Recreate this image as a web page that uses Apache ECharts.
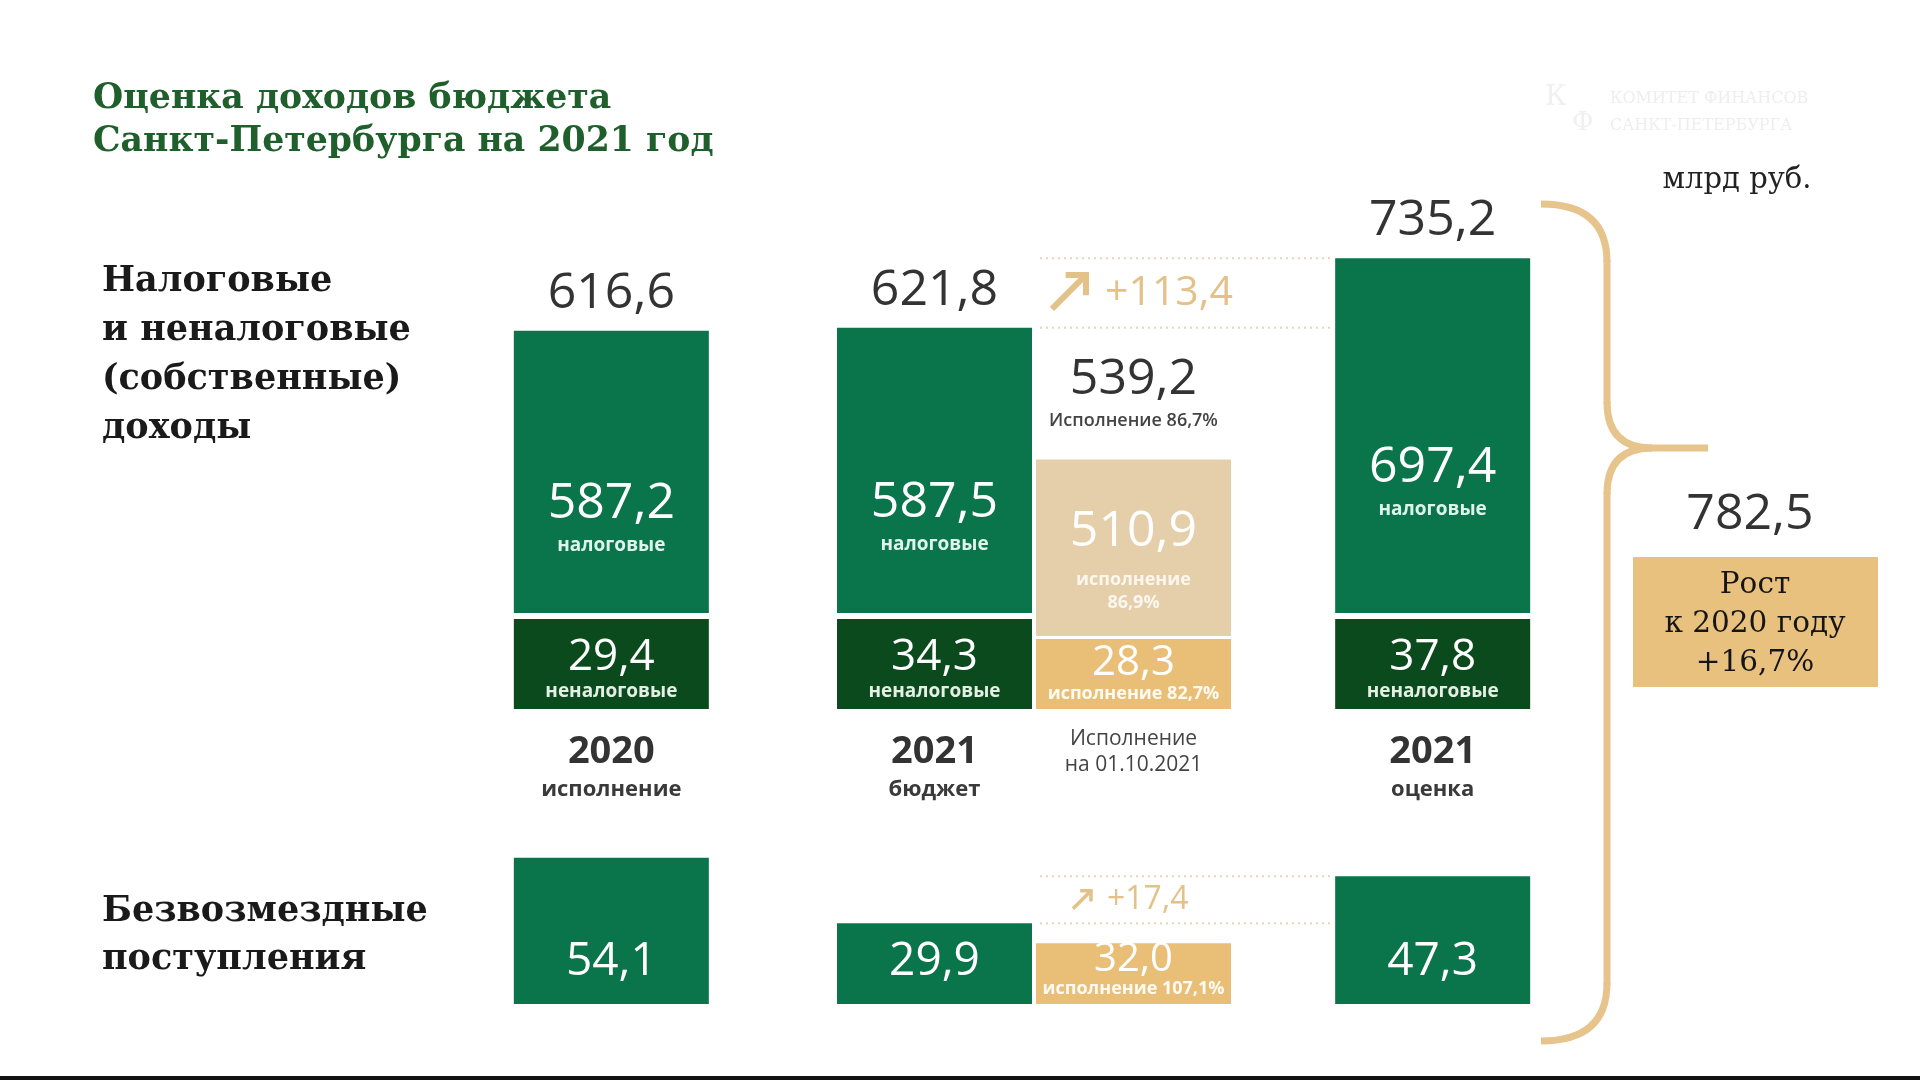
<!DOCTYPE html>
<html lang="ru">
<head>
<meta charset="utf-8">
<title>Оценка доходов бюджета Санкт-Петербурга на 2021 год</title>
<script src="https://cdn.jsdelivr.net/npm/echarts@6.0.0/dist/echarts.min.js"></script>
<style>
  html, body { margin: 0; padding: 0; background: #fff; }
  #chart { width: 1920px; height: 1080px; }
</style>
</head>
<body>
<div id="chart"></div>
<script>
// млрд руб.
const columns = ['2020 исполнение', '2021 бюджет', '2021 оценка'];
const taxRevenue = [587.2, 587.5, 697.4];
const nonTaxRevenue = [29.4, 34.3, 37.8];
const grants = [54.1, 29.9, 47.3];

// исполнение на 01.10.2021 стоит рядом с бюджетом 2021
const execColumn = 1;
const execCaption = ['Исполнение', 'на 01.10.2021'];
const execTax = [510.9];
const execNonTax = [28.3];
const execGrants = [32.0];
// всего, налоговые, неналоговые, безвозмездные (%)
const execPercent = [86.7, 86.9, 82.7, 107.1];

const SANS = '"Open Sans", "Noto Sans", sans-serif';
const SERIF = '"DejaVu Serif", serif';
const GREEN = '#0a744b';
const DARK_GREEN = '#0b4a1c';
const TAN_LIGHT = '#e5cfaa';
const TAN = '#e9bf78';
const GOLD = '#e4c189';
const BRACE = '#e7c48b';

const BAR_W = 195;
const PAIR_CENTER = 12;
const PAIR_SHIFT = 99.5;
const NT_MIN = 90;
const TAN_NT_MIN = 70;

const fmt = (v) => v.toFixed(1).replace('.', ',');

function txt(text, x, y, size, extra) {
  return {
    type: 'text',
    style: Object.assign({
      text: text, x: x, y: y, fontSize: size, fontFamily: SANS,
      fill: '#333', align: 'center', verticalAlign: 'middle'
    }, extra || {})
  };
}

function columnX(api, cat, isExec) {
  const cx = api.coord([cat, 0])[0];
  if (cat !== execColumn) return cx;
  return cx + PAIR_CENTER + (isExec ? PAIR_SHIFT : -PAIR_SHIFT);
}

function renderOwn(params, api) {
  const cat = api.value(0);
  const tax = api.value(1);
  const nonTax = api.value(2);
  const cx = columnX(api, cat, false);
  const baseY = api.coord([cat, 0])[1];
  const topY = api.coord([cat, tax + nonTax])[1];
  const ntH = Math.max(baseY - api.coord([cat, nonTax])[1], NT_MIN);
  const taxBottom = baseY - ntH - 6;
  const mid = (topY + taxBottom) / 2 + 32;
  const parts = columns[cat].split(' ');
  return {
    type: 'group',
    children: [
      { type: 'rect', shape: { x: cx - BAR_W / 2, y: topY, width: BAR_W, height: taxBottom - topY }, style: { fill: GREEN } },
      { type: 'rect', shape: { x: cx - BAR_W / 2, y: baseY - ntH, width: BAR_W, height: ntH }, style: { fill: DARK_GREEN } },
      txt(fmt(tax + nonTax), cx, topY - 37, 50),
      txt(fmt(tax), cx, mid, 50, { fill: '#fff' }),
      txt('налоговые', cx, mid + 42, 19, { fill: '#dff4ec', fontWeight: 'bold' }),
      txt(fmt(nonTax), cx, baseY - 52, 44, { fill: '#fff' }),
      txt('неналоговые', cx, baseY - 17, 19, { fill: '#e6efe6', fontWeight: 'bold' }),
      txt(parts[0], cx, baseY + 43, 38, { fontWeight: 'bold' }),
      txt(parts[1], cx, baseY + 81, 22, { fontWeight: 'bold', fill: '#3a3a3a' })
    ]
  };
}

function renderExec(params, api) {
  const cat = api.value(0);
  const tax = api.value(1);
  const nonTax = api.value(2);
  const cx = columnX(api, cat, true);
  const baseY = api.coord([cat, 0])[1];
  const topY = api.coord([cat, tax + nonTax])[1];
  const ntH = Math.max(baseY - api.coord([cat, nonTax])[1], TAN_NT_MIN);
  const taxBottom = baseY - ntH - 3;
  const mid = (topY + taxBottom) / 2;
  return {
    type: 'group',
    children: [
      { type: 'rect', shape: { x: cx - BAR_W / 2, y: topY, width: BAR_W, height: taxBottom - topY }, style: { fill: TAN_LIGHT } },
      { type: 'rect', shape: { x: cx - BAR_W / 2, y: baseY - ntH, width: BAR_W, height: ntH }, style: { fill: TAN } },
      txt(fmt(tax + nonTax), cx, topY - 80, 50),
      txt('Исполнение ' + fmt(execPercent[0]) + '%', cx, topY - 39, 18, { fontWeight: 600, fill: '#444' }),
      txt(fmt(tax), cx, mid - 16, 50, { fill: '#fff' }),
      txt('исполнение', cx, mid + 32, 18, { fill: '#fbf6ee', fontWeight: 'bold' }),
      txt(fmt(execPercent[1]) + '%', cx, mid + 55, 18, { fill: '#fbf6ee', fontWeight: 'bold' }),
      txt(fmt(nonTax), cx, baseY - 46, 42, { fill: '#fff' }),
      txt('исполнение ' + fmt(execPercent[2]) + '%', cx, baseY - 15, 18, { fill: '#fffaf2', fontWeight: 'bold' }),
      txt(execCaption[0], cx, baseY + 30, 21, { fill: '#444', fontWeight: 500 }),
      txt(execCaption[1], cx, baseY + 56, 21, { fill: '#444', fontWeight: 500 })
    ]
  };
}

function renderGrant(params, api) {
  const cat = api.value(0);
  const v = api.value(1);
  const cx = columnX(api, cat, false);
  const baseY = api.coord([cat, 0])[1];
  const topY = api.coord([cat, v])[1];
  return {
    type: 'group',
    children: [
      { type: 'rect', shape: { x: cx - BAR_W / 2, y: topY, width: BAR_W, height: baseY - topY }, style: { fill: GREEN } },
      txt(fmt(v), cx, baseY - 42, 46, { fill: '#fff' })
    ]
  };
}

function renderExecGrant(params, api) {
  const cat = api.value(0);
  const v = api.value(1);
  const cx = columnX(api, cat, true);
  const baseY = api.coord([cat, 0])[1];
  const topY = api.coord([cat, v])[1];
  return {
    type: 'group',
    children: [
      { type: 'rect', shape: { x: cx - BAR_W / 2, y: topY, width: BAR_W, height: baseY - topY }, style: { fill: TAN } },
      txt(fmt(v), cx, baseY - 44, 40, { fill: '#fff' }),
      txt('исполнение ' + fmt(execPercent[3]) + '%', cx, baseY - 15, 18, { fill: '#fffaf2', fontWeight: 'bold' })
    ]
  };
}

// пунктир между бюджетом и оценкой и прирост со стрелкой
function makeDeltaRenderer(cfg) {
  return function (params, api) {
    const fromCat = api.value(0);
    const fromV = api.value(1);
    const toCat = api.value(2);
    const toV = api.value(3);
    const x1 = columnX(api, fromCat, true) - BAR_W / 2 + 4;
    const x2 = columnX(api, toCat, false) - BAR_W / 2 - 3;
    const y1 = api.coord([fromCat, fromV])[1];
    const y2 = api.coord([toCat, toV])[1];
    const midY = (y1 + y2) / 2;
    const dotted = { stroke: '#e8d5b3', lineWidth: 2, lineDash: [2, 4] };
    const tx = x1 + cfg.arrowX;
    const ty = midY + cfg.arrowY;
    const s = cfg.size;
    const h = s * 0.6;
    const arrowStyle = { stroke: GOLD, lineWidth: cfg.width, fill: null };
    return {
      type: 'group',
      children: [
        { type: 'line', shape: { x1: x1, y1: y1, x2: x2, y2: y1 }, style: dotted },
        { type: 'line', shape: { x1: x1, y1: y2, x2: x2, y2: y2 }, style: dotted },
        { type: 'line', shape: { x1: tx, y1: ty, x2: tx + s, y2: ty - s }, style: arrowStyle },
        { type: 'polyline', shape: { points: [[tx + s - h, ty - s], [tx + s, ty - s], [tx + s, ty - s + h]] }, style: arrowStyle },
        txt('+' + fmt(toV - fromV), x1 + cfg.textX, midY, cfg.font, { fill: GOLD, align: 'left' })
      ]
    };
  };
}

function curve(x1, y1, cx, cy, x2, y2) {
  return { type: 'bezierCurve', shape: { x1: x1, y1: y1, cpx1: cx, cpy1: cy, x2: x2, y2: y2 },
    style: { stroke: BRACE, lineWidth: 7, fill: null } };
}
function straight(x1, y1, x2, y2) {
  return { type: 'line', shape: { x1: x1, y1: y1, x2: x2, y2: y2 }, style: { stroke: BRACE, lineWidth: 7 } };
}

const ownData = taxRevenue.map((t, i) => [i, t, nonTaxRevenue[i]]);
const execData = [[execColumn, execTax[0], execNonTax[0]]];
const grantData = grants.map((g, i) => [i, g]);
const execGrantData = [[execColumn, execGrants[0]]];
const ownDelta = [[1, taxRevenue[1] + nonTaxRevenue[1], 2, taxRevenue[2] + nonTaxRevenue[2]]];
const grantDelta = [[1, grants[1], 2, grants[2]]];

const total2020 = taxRevenue[0] + nonTaxRevenue[0] + grants[0];
const totalEstimate = taxRevenue[2] + nonTaxRevenue[2] + grants[2];
const growth = (totalEstimate / total2020 - 1) * 100;

const chart = echarts.init(document.getElementById('chart'));

const option = {
  backgroundColor: '#fff',
  animation: false,
  grid: [
    { left: 406, right: 282, top: 200, bottom: 371 },
    { left: 406, right: 282, top: 850, bottom: 76 }
  ],
  xAxis: [
    { type: 'category', gridIndex: 0, data: columns, show: false },
    { type: 'category', gridIndex: 1, data: columns, show: false }
  ],
  yAxis: [
    { type: 'value', gridIndex: 0, min: 0, max: 830, show: false },
    { type: 'value', gridIndex: 0, min: 0, max: 1100, show: false },
    { type: 'value', gridIndex: 1, min: 0, max: 57, show: false },
    { type: 'value', gridIndex: 1, min: 0, max: 81, show: false }
  ],
  series: [
    { type: 'custom', name: 'Собственные доходы', xAxisIndex: 0, yAxisIndex: 0, clip: false, silent: true,
      encode: { x: 0, y: [1, 2] }, data: ownData, renderItem: renderOwn },
    { type: 'custom', name: 'Исполнение', xAxisIndex: 0, yAxisIndex: 1, clip: false, silent: true,
      encode: { x: 0, y: [1, 2] }, data: execData, renderItem: renderExec },
    { type: 'custom', name: 'Прирост', xAxisIndex: 0, yAxisIndex: 0, clip: false, silent: true,
      encode: { x: [0, 2], y: [1, 3] }, data: ownDelta,
      renderItem: makeDeltaRenderer({ arrowX: 12, arrowY: 16, size: 34, width: 6, textX: 65, font: 41 }) },
    { type: 'custom', name: 'Безвозмездные', xAxisIndex: 1, yAxisIndex: 2, clip: false, silent: true,
      encode: { x: 0, y: 1 }, data: grantData, renderItem: renderGrant },
    { type: 'custom', name: 'Безвозмездные исполнение', xAxisIndex: 1, yAxisIndex: 3, clip: false, silent: true,
      encode: { x: 0, y: 1 }, data: execGrantData, renderItem: renderExecGrant },
    { type: 'custom', name: 'Прирост безвозмездных', xAxisIndex: 1, yAxisIndex: 2, clip: false, silent: true,
      encode: { x: [0, 2], y: [1, 3] }, data: grantDelta,
      renderItem: makeDeltaRenderer({ arrowX: 33, arrowY: 9, size: 18, width: 3.5, textX: 67, font: 32 }) }
  ],
  graphic: [
    { type: 'text', x: 93, y: 77, style: { text: 'Оценка доходов бюджета\nСанкт-Петербурга на 2021 год',
      fontFamily: SERIF, fontWeight: 'bold', fontSize: 34.7, lineHeight: 43, fill: '#1f5f2c' } },
    { type: 'text', x: 102, y: 257, style: { text: 'Налоговые\nи неналоговые\n(собственные)\nдоходы',
      fontFamily: SERIF, fontWeight: 'bold', fontSize: 35, lineHeight: 49, fill: '#1a1a1a' } },
    { type: 'text', x: 102, y: 888, style: { text: 'Безвозмездные\nпоступления',
      fontFamily: SERIF, fontWeight: 'bold', fontSize: 35, lineHeight: 48, fill: '#1a1a1a' } },
    { type: 'text', x: 1737, y: 180, style: { text: 'млрд руб.', fontFamily: SERIF, fontSize: 29,
      fill: '#222', align: 'center', verticalAlign: 'middle' } },
    { type: 'text', x: 1545, y: 84, style: { text: 'К', fontFamily: SERIF, fontSize: 28, fill: '#f0f0f0' } },
    { type: 'text', x: 1572, y: 110, style: { text: 'Ф', fontFamily: SERIF, fontSize: 26, fill: '#f0f0f0' } },
    { type: 'text', x: 1610, y: 85, style: { text: 'КОМИТЕТ ФИНАНСОВ\nСАНКТ-ПЕТЕРБУРГА', fontFamily: SERIF,
      fontSize: 16, lineHeight: 27, fill: '#eeeeee' } },
    curve(1541, 204, 1607, 204, 1607, 262),
    straight(1607, 260, 1607, 404),
    curve(1607, 402, 1607, 448, 1652, 448),
    straight(1650, 448, 1708, 448),
    curve(1652, 448, 1607, 448, 1607, 494),
    straight(1607, 492, 1607, 985),
    curve(1607, 983, 1607, 1041, 1541, 1041),
    { type: 'text', x: 1750, y: 515, style: { text: fmt(totalEstimate), fontFamily: SANS, fontSize: 50,
      fill: '#333', align: 'center', verticalAlign: 'middle' } },
    { type: 'rect', shape: { x: 1633, y: 557, width: 245, height: 130 }, style: { fill: '#e8c17f' } },
    { type: 'text', x: 1755, y: 624, style: { text: 'Рост\nк 2020 году\n+' + fmt(growth) + '%', fontFamily: SERIF,
      fontSize: 29.5, lineHeight: 39, fill: '#151515', align: 'center', verticalAlign: 'middle' } },
    { type: 'rect', shape: { x: 0, y: 1076, width: 1920, height: 4 }, style: { fill: '#111' } }
  ]
};

chart.setOption(option);
window.addEventListener('resize', () => chart.resize());
</script>
</body>
</html>
